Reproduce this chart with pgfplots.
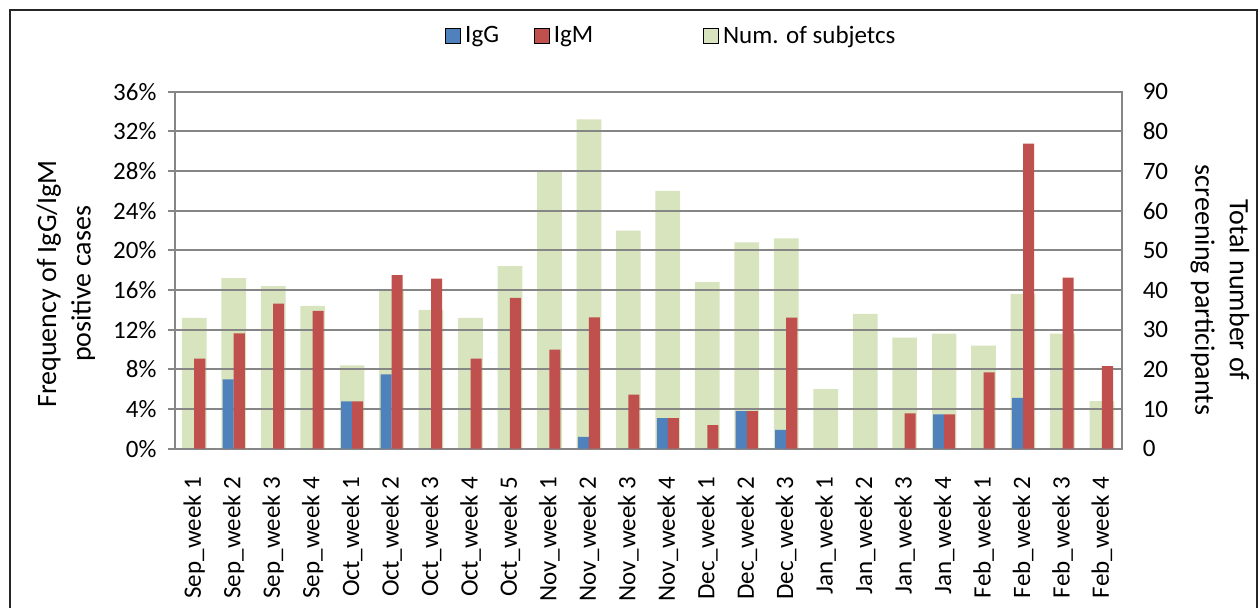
\documentclass[border=0pt]{standalone}
\usepackage{pgfplots}
\pgfplotsset{compat=1.18}
\usepackage{fontspec}
\setmainfont{Carlito}
\definecolor{igg}{RGB}{79,129,189}
\definecolor{igm}{RGB}{192,80,77}
\definecolor{subj}{RGB}{215,228,189}
\definecolor{gridc}{RGB}{134,134,134}
\pgfplotsset{sqlegend/.style={legend image code/.code={\fill[##1] (0pt,-3.75pt) rectangle (7.5pt,3.75pt);}}}
\newcommand{\tickfont}{\fontsize{12.5}{14}\selectfont}
\newcommand{\labfont}{\fontsize{14}{17.25}\selectfont}
\begin{document}
\begin{tikzpicture}
\path[use as bounding box] (0,0) rectangle (629.5pt,304pt);
\draw[line width=0.75pt, black!85] (5pt,0) -- (5pt,299pt) -- (628.5pt,299pt) -- (628.5pt,0);
% secondary axis: number of subjects
\begin{axis}[
  at={(87.25pt,79.65pt)}, anchor=south west,
  scale only axis, width=473.6pt, height=178.5pt,
  xmin=-0.5, xmax=23.5, ymin=0, ymax=90,
  axis y line*=right, hide x axis,
  ytick={0,10,20,30,40,50,60,70,80,90},
  yticklabels={0,10,20,30,40,50,60,70,80,90},
  major tick length=0pt,
  yticklabel style={font=\tickfont, xshift=7pt},
  axis line style={gridc, line width=1pt},
]
\addplot[ybar, bar width=0.626, bar shift=0, fill=subj, draw=none] coordinates {
(0,33) (1,43) (2,41) (3,36) (4,21) (5,40) (6,35) (7,33) (8,46) (9,70) (10,83) (11,55)
(12,65) (13,42) (14,52) (15,53) (16,15) (17,34) (18,28) (19,29) (20,26) (21,39) (22,29) (23,12)};
\end{axis}
% primary axis: IgG / IgM frequency
\begin{axis}[
  at={(87.25pt,79.65pt)}, anchor=south west,
  scale only axis, width=473.6pt, height=178.5pt,
  xmin=-0.5, xmax=23.5, ymin=0, ymax=36,
  xtick={0,...,23},
  xticklabels={Sep\_week 1,Sep\_week 2,Sep\_week 3,Sep\_week 4,Oct\_week 1,Oct\_week 2,Oct\_week 3,Oct\_week 4,Oct\_week 5,Nov\_week 1,Nov\_week 2,Nov\_week 3,Nov\_week 4,Dec\_week 1,Dec\_week 2,Dec\_week 3,Jan\_week 1,Jan\_week 2,Jan\_week 3,Jan\_week 4,Feb\_week 1,Feb\_week 2,Feb\_week 3,Feb\_week 4},
  minor xtick={-0.5,0.5,...,23.5},
  xtick style={draw=none},
  minor x tick style={gridc, line width=1pt},
  x tick label style={rotate=90, anchor=east, font=\tickfont},
  xticklabel shift=7pt,
  ytick={0,4,...,36},
  yticklabels={0\%,4\%,8\%,12\%,16\%,20\%,24\%,28\%,32\%,36\%},
  yticklabel style={font=\tickfont},
  yticklabel shift=2pt,
  ytick pos=left, xtick pos=bottom,
  tick align=outside,
  major tick length=3.5pt, minor tick length=3.5pt,
  y tick style={gridc, line width=1pt},
  ymajorgrids, grid style={gridc, line width=1pt},
  axis line style={gridc, line width=1pt},
  legend style={at={(0.2856,1.155)}, anchor=west, draw=none, fill=none, inner sep=0pt, font=\tickfont,
    nodes={inner sep=0pt},
    /tikz/column 1/.style={column sep=2pt},
    /tikz/column 2/.style={column sep=17.5pt},
    /tikz/column 3/.style={column sep=2pt},
    /tikz/column 4/.style={column sep=55pt},
    /tikz/column 5/.style={column sep=2pt}},
  legend columns=3,
]
\addplot[ybar, bar width=0.28, bar shift=-0.14, fill=igg, draw=none, forget plot] coordinates {
(0,0) (1,6.98) (2,0) (3,0) (4,4.76) (5,7.5) (6,0) (7,0) (8,0) (9,0) (10,1.2) (11,0)
(12,3.08) (13,0) (14,3.8) (15,1.89) (16,0) (17,0) (18,0) (19,3.45) (20,0) (21,5.13) (22,0) (23,0)};
\addplot[ybar, bar width=0.28, bar shift=0.14, fill=igm, draw=none, forget plot] coordinates {
(0,9.09) (1,11.63) (2,14.63) (3,13.89) (4,4.76) (5,17.5) (6,17.14) (7,9.09) (8,15.22) (9,10.0) (10,13.25) (11,5.45)
(12,3.08) (13,2.38) (14,3.8) (15,13.21) (16,0) (17,0) (18,3.57) (19,3.45) (20,7.69) (21,30.77) (22,17.24) (23,8.33)};
\addlegendimage{sqlegend, fill=igg}
\addlegendentry{IgG}
\addlegendimage{sqlegend, fill=igm}
\addlegendentry{IgM}
\addlegendimage{sqlegend, fill=subj}
\addlegendentry{Num. of subjetcs}
\end{axis}
\node[rotate=90, align=center, font=\labfont] at (33pt,162pt) {Frequency of IgG/IgM\\positive cases};
\node[rotate=-90, align=center, font=\labfont] at (610pt,159pt) {Total number of\\screening participants};
\end{tikzpicture}
\end{document}
